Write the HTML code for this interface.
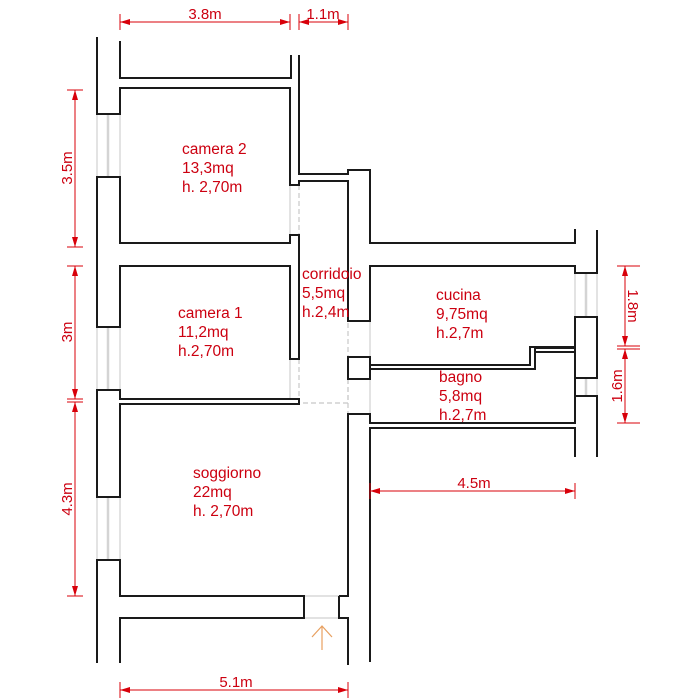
<!DOCTYPE html>
<html><head><meta charset="utf-8"><style>
html,body{margin:0;padding:0;background:#fff;}
svg{display:block;}
text{font-family:"Liberation Sans",Arial,sans-serif;font-size:15.5px;fill:#cc0010;}
text.d{font-size:15px;}
</style></head><body>
<svg width="700" height="700" viewBox="0 0 700 700" xmlns="http://www.w3.org/2000/svg">
<g fill="none" stroke="#d0d0d0" stroke-width="1.2">
<path d="M97 114V177M120 114V177"/>
<path d="M97 327V390M120 327V390"/>
<path d="M97 497V560M120 497V560"/>
<path d="M575 273V317M597 273V317"/>
<path d="M575 378V396M597 378V396"/>
<path d="M290 185V235M290 359V399"/>
<path d="M370 321V357M370 379V414"/>
<path d="M304 596H339M304 618H339"/>
</g>
<g fill="none" stroke="#d4d4d4" stroke-width="2.5">
<path d="M108 114V177M108 327V390M108 497V560M586 273V317M586 378V396"/>
</g>
<g fill="none" stroke="#c8c8c8" stroke-width="1.2" stroke-dasharray="5,3">
<path d="M299 185V235M299 359V403H348V321"/>
<path d="M348 379V414"/>
</g>
<g fill="none" stroke="#1a1a1a" stroke-width="2" stroke-linejoin="miter">
<path d="M120 41V78H291V55"/>
<path d="M299 55V174H348V170H370V243H575V229"/>
<path d="M597 230V273H575V266H370V321H348V181H299V185H290V88H120V114H97V37"/>
<path d="M97 177H120V243H290V235H299V359H290V266H120V327H97Z"/>
<path d="M97 390H120V399H299V404H120V497H97Z"/>
<path d="M97 663V560H120V596H304V618H120V663"/>
<path d="M339 596V618H348V665"/>
<path d="M339 596H348V414H370V423H575V317H597V378H575V348H535V352"/>
<path d="M348 357H370V379H348Z"/>
<path d="M370 365H530V347H575"/>
<path d="M370 369H535V352H575V378"/>
<path d="M575 396H597V457"/>
<path d="M575 457V428H370V662"/>
</g>
<g stroke="#d8000a" stroke-width="1" fill="#d8000a">
<path d="M120 22H290M120 14V30M290 14V30"/>
<path d="M299 22H348M299 14V30M348 14V30"/>
<path d="M75 90V247M67 90H83M67 247H83"/>
<path d="M75 266V399M67 266H83M67 399H83"/>
<path d="M75 402V596M67 402H83M67 596H83"/>
<path d="M120 690H348M120 682V698M348 682V698"/>
<path d="M370 491H575M370 483V499M575 483V499"/>
<path d="M625 266V346M617 266H640M617 346H640M625 349V423M617 349H640M617 423H640"/>
<path d="M120 22l10-3v6zM290 22l-10-3v6zM299 22l10-3v6zM348 22l-10-3v6z" stroke="none"/>
<path d="M75 90l-3 10h6zM75 247l-3-10h6zM75 266l-3 10h6zM75 399l-3-10h6zM75 402l-3 10h6zM75 596l-3-10h6z" stroke="none"/>
<path d="M120 690l10-3v6zM348 690l-10-3v6zM370 491l10-3v6zM575 491l-10-3v6z" stroke="none"/>
<path d="M625 266l-3 10h6zM625 346l-3-10h6zM625 349l-3 10h6zM625 423l-3-10h6z" stroke="none"/>
</g>
<path d="M322 650V626M312 637L322 626L332 637" stroke="#e8a060" stroke-width="1.2" fill="none"/>
<text class="d" x="205" y="19" text-anchor="middle">3.8m</text>
<text class="d" x="323" y="19" text-anchor="middle">1.1m</text>
<text class="d" x="236" y="687" text-anchor="middle">5.1m</text>
<text class="d" x="474" y="488" text-anchor="middle">4.5m</text>
<text class="d" transform="translate(72,168) rotate(-90)" text-anchor="middle">3.5m</text>
<text class="d" transform="translate(72,332) rotate(-90)" text-anchor="middle">3m</text>
<text class="d" transform="translate(72,499) rotate(-90)" text-anchor="middle">4.3m</text>
<text class="d" transform="translate(628,306) rotate(90)" text-anchor="middle">1.8m</text>
<text class="d" transform="translate(622,386) rotate(-90)" text-anchor="middle">1.6m</text>
<text x="182" y="154">camera 2</text><text x="182" y="173">13,3mq</text><text x="182" y="192">h. 2,70m</text>
<text x="178" y="318">camera 1</text><text x="178" y="337">11,2mq</text><text x="178" y="356">h.2,70m</text>
<text x="302" y="279">corridoio</text><text x="302" y="298">5,5mq</text><text x="302" y="317">h.2,4m</text>
<text x="436" y="300">cucina</text><text x="436" y="319">9,75mq</text><text x="436" y="338">h.2,7m</text>
<text x="439" y="382">bagno</text><text x="439" y="401">5,8mq</text><text x="439" y="420">h.2,7m</text>
<text x="193" y="478">soggiorno</text><text x="193" y="497">22mq</text><text x="193" y="516">h. 2,70m</text>
</svg>
</body></html>
